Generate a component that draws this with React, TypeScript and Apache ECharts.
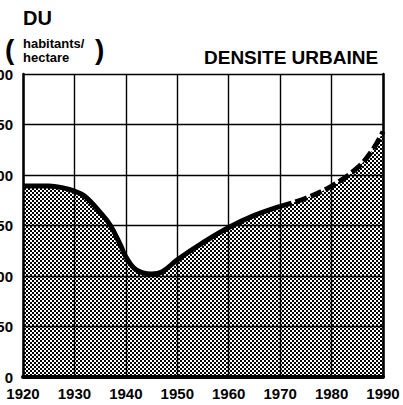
import React, { useEffect, useRef } from "react";
import * as echarts from "echarts";

const years = [1920, 1925, 1928, 1930, 1932, 1935, 1937, 1939, 1940, 1942, 1945, 1947, 1950, 1955, 1960, 1965, 1970, 1975, 1980, 1985, 1988, 1990];
const density = [189, 189, 187, 184, 179, 163, 150, 130, 119, 106, 102, 104, 116, 133, 148, 160, 169, 177, 189, 207, 225, 243];
const solidUntil = 1970;
const xTicks = [1920, 1930, 1940, 1950, 1960, 1970, 1980, 1990];
const yTicks = [0, 50, 100, 150, 200, 250, 300];

const FONT = "'Liberation Sans', Arial, sans-serif";

function makePattern(): string {
  const c = document.createElement("canvas");
  c.width = 4;
  c.height = 4;
  const ctx = c.getContext("2d")!;
  ctx.fillStyle = "#000";
  ctx.fillRect(0, 0, 2, 2);
  ctx.fillRect(2, 2, 2, 2);
  return c.toDataURL();
}

export default function App() {
  const ref = useRef<HTMLDivElement>(null);
  useEffect(() => {
    if (!ref.current) return;
    const chart = echarts.init(ref.current, null, { renderer: "svg" });
    const all = years.map((y, i) => [y, density[i]]);
    const solid = all.filter((p) => p[0] <= solidUntil);
    const dashed = all.filter((p) => p[0] >= solidUntil);
    const pattern = { image: makePattern(), repeat: "repeat", imageWidth: 4, imageHeight: 4 };
    const labelStyle = { color: "#000", fontFamily: FONT, fontWeight: "bold", fontSize: 15 };
    chart.setOption({
      animation: false,
      backgroundColor: "#fff",
      grid: { left: 23, right: 20, top: 74, bottom: 28, containLabel: false, outerBoundsMode: "none" },
      xAxis: {
        type: "value",
        min: xTicks[0],
        max: xTicks[xTicks.length - 1],
        interval: 10,
        axisLine: { show: true, onZero: false, lineStyle: { color: "#000", width: 4 } },
        axisTick: { show: false },
        splitLine: { show: true, lineStyle: { color: "#000", width: 1.4 } },
        axisLabel: { ...labelStyle, margin: 9, formatter: (v: number) => String(v) },
      },
      yAxis: [
        {
          type: "value",
          min: yTicks[0],
          max: yTicks[yTicks.length - 1],
          interval: 50,
          axisLine: { show: true, lineStyle: { color: "#000", width: 2.5 } },
          axisTick: { show: false },
          splitLine: { show: true, lineStyle: { color: "#000", width: 1.4 } },
          axisLabel: { ...labelStyle, margin: 10 },
        },
        {
          type: "value",
          position: "right",
          min: yTicks[0],
          max: yTicks[yTicks.length - 1],
          interval: 50,
          axisLine: { show: true, lineStyle: { color: "#000", width: 2.5 } },
          axisTick: { show: false },
          splitLine: { show: false },
          axisLabel: { show: false },
        },
      ],
      series: [
        {
          type: "line",
          data: all,
          smooth: 0.4,
          showSymbol: false,
          lineStyle: { width: 0 },
          areaStyle: { color: pattern, opacity: 1 },
          z: 2,
        },
        {
          type: "line",
          data: solid,
          smooth: 0.4,
          showSymbol: false,
          lineStyle: { color: "#000", width: 5 },
          z: 3,
        },
        {
          type: "line",
          data: dashed,
          smooth: 0.4,
          showSymbol: false,
          lineStyle: { color: "#000", width: 5, type: [12, 4] },
          z: 3,
        },
      ],
      graphic: [
        { type: "text", left: 23, top: 8, style: { text: "DU", font: `bold 20px ${FONT}`, fill: "#000" } },
        { type: "text", left: 5, top: 35, style: { text: "(", font: `bold 28px ${FONT}`, fill: "#000" } },
        { type: "text", left: 23, top: 37, style: { text: "habitants/", font: `bold 13px ${FONT}`, lineHeight: 12, fill: "#000" } },
        { type: "text", left: 23, top: 51, style: { text: "hectare", font: `bold 13px ${FONT}`, lineHeight: 12, fill: "#000" } },
        { type: "text", left: 95, top: 35, style: { text: ")", font: `bold 28px ${FONT}`, fill: "#000" } },
        { type: "text", left: 204, top: 48, style: { text: "DENSITE URBAINE", font: `bold 19px ${FONT}`, fill: "#000" } },
      ],
    });
    return () => chart.dispose();
  }, []);
  return <div ref={ref} style={{ width: 403, height: 405, position: "absolute", left: 0, top: 0 }} />;
}
